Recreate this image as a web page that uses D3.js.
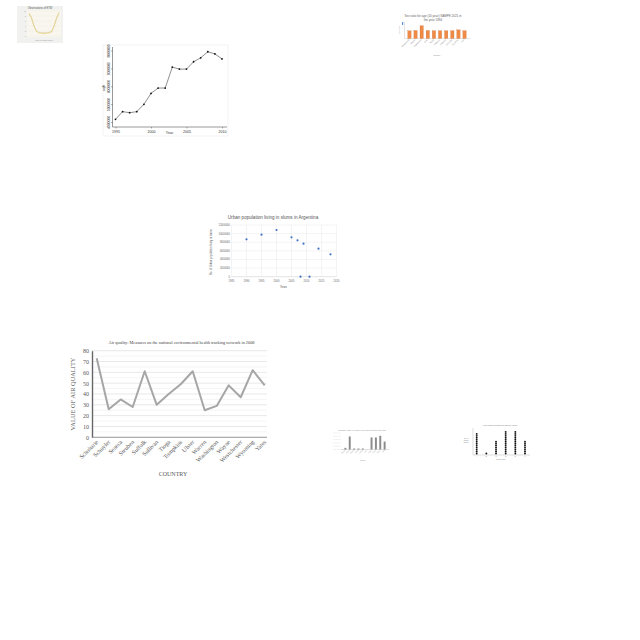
<!DOCTYPE html>
<html>
<head>
<meta charset="utf-8">
<script src="https://cdn.jsdelivr.net/npm/d3@7"></script>
<style>
  body { margin: 0; background: #fff; }
  svg { display: block; }
</style>
</head>
<body>
<svg id="svg1" width="640" height="640"></svg>
<script>
// ---- data ----
// chart A (top left, tiny line chart)
const obsX = [0, 1, 2, 3, 4, 5, 6, 7, 8, 9, 10, 11, 12];
const obsA = [9.2, 7.4, 4.1, 1.8, 1.2, 1.1, 1.0, 1.1, 1.2, 1.6, 4.0, 7.2, 9.5];
const obsB = [8.8, 7.0, 3.8, 2.0, 1.5, 1.4, 1.3, 1.4, 1.5, 1.9, 3.7, 6.9, 9.1];

// chart B (top right, orange bars)
const sexCountries = ["Bangladesh", "Bhutan", "Afghanistan", "India", "Nepal", "Maldives", "Pakistan", "Sri Lanka", "Myanmar", "Iran"];
const sexRatio = [100, 104, 165, 104, 101, 101, 101, 101, 112, 101];

// chart C (line with points)
const lineYears = [1995, 1996, 1997, 1998, 1999, 2000, 2001, 2002, 2003, 2004, 2005, 2006, 2007, 2008, 2009, 2010];
const lineValues = [4150000, 4580000, 4520000, 4580000, 4990000, 5600000, 5900000, 5900000, 7070000, 6960000, 6960000, 7370000, 7590000, 7930000, 7810000, 7530000];
const lineYTicks = [4000000, 5000000, 6000000, 7000000, 8000000];
const lineXTicks = [1995, 2000, 2005, 2010];

// chart D (Argentina slums scatter)
const slumYears = [1990, 1995, 2000, 2005, 2007, 2009, 2014, 2018, 2008, 2011];
const slumValues = [8670000, 9750000, 10840000, 9130000, 8440000, 7660000, 6500000, 5190000, 0, 0];
const slumXTicks = [1985, 1990, 1995, 2000, 2005, 2010, 2015, 2020];
const slumYTicks = [0, 2000000, 4000000, 6000000, 8000000, 10000000, 12000000];

// chart E (air quality line)
const counties = ["Schoharie", "Schuyler", "Seneca", "Steuben", "Suffolk", "Sullivan", "Tioga", "Tompkins", "Ulster", "Warren", "Washington", "Wayne", "Westchester", "Wyoming", "Yates"];
const airValues = [73, 26, 35, 28, 61, 30, 40, 49, 61, 25, 29, 48, 37, 62, 48];
const airTicks = [0, 10, 20, 30, 40, 50, 60, 70, 80];

// chart F (small gray bars)
const smallCats = ["Albania", "Algeria", "Angola", "Benin", "Bolivia", "Chad", "Egypt", "Ghana", "Kenya", "Mali"];
const smallValues = [10, 79, 6, 6, 6, 0, 73, 73, 83, 48];
const smallTicks = [0, 20, 40, 60, 80, 100];

// chart G (stacked dots)
const dotCats = ["A", "B", "C", "D", "E", "F"];
const dotCounts = [11, 1, 7, 12, 12, 7];

const svg = d3.select("#svg1");

// ---- chart A ----
function chartA() {
  const g = svg.append("g");
  g.append("rect").attr("x", 17).attr("y", 6).attr("width", 46).attr("height", 37).attr("fill", "#f1f1ef");
  g.append("text").attr("x", 40).attr("y", 9).attr("text-anchor", "middle")
    .attr("font-family", "Liberation Sans").attr("font-size", 2.6).attr("fill", "#555")
    .text("Observations of ETW");
  const x = d3.scaleLinear().domain([0, 12]).range([29, 59]);
  const y = d3.scaleLinear().domain([0, 10]).range([36, 11]);
  g.append("rect").attr("x", 27).attr("y", 10).attr("width", 34).attr("height", 27).attr("fill", "#f8f6ee");
  y.ticks(5).forEach(t => {
    g.append("line").attr("x1", 27).attr("x2", 61).attr("y1", y(t)).attr("y2", y(t)).attr("stroke", "#ece8dc").attr("stroke-width", 0.3);
    g.append("text").attr("x", 26).attr("y", y(t) + 0.6).attr("text-anchor", "end")
      .attr("font-family", "Liberation Sans").attr("font-size", 1.8).attr("fill", "#999").text(t);
  });
  const line = d3.line().x((d, i) => x(obsX[i])).y(d => y(d));
  g.append("path").datum(obsB).attr("d", line).attr("fill", "none").attr("stroke", "#d9d2b8").attr("stroke-width", 0.7);
  g.append("path").datum(obsA).attr("d", line).attr("fill", "none").attr("stroke", "#e6cf7c").attr("stroke-width", 0.8);
  g.append("text").attr("x", 44).attr("y", 41).attr("text-anchor", "middle")
    .attr("font-family", "Liberation Sans").attr("font-size", 2).attr("fill", "#999").text("Time of observation");
}

// ---- chart B ----
function chartB() {
  const g = svg.append("g");
  g.append("text").attr("x", 433).attr("y", 16.5).attr("text-anchor", "middle")
    .attr("font-family", "Liberation Sans").attr("font-size", 3).attr("fill", "#666")
    .text("Sex ratio for age (10 year) SAMPE 2021 in");
  g.append("text").attr("x", 433).attr("y", 20.5).attr("text-anchor", "middle")
    .attr("font-family", "Liberation Sans").attr("font-size", 3).attr("fill", "#666")
    .text("the year 1994");
  const x = d3.scaleBand().domain(sexCountries).range([405, 469]).padding(0.45);
  const y = d3.scaleLinear().domain([0, 200]).range([38.5, 23]);
  g.append("line").attr("x1", 404.5).attr("x2", 404.5).attr("y1", 22).attr("y2", 38.5).attr("stroke", "#bbb").attr("stroke-width", 0.4);
  g.append("line").attr("x1", 404.5).attr("x2", 470).attr("y1", 38.5).attr("y2", 38.5).attr("stroke", "#bbb").attr("stroke-width", 0.4);
  g.append("rect").attr("x", 402).attr("y", 22).attr("width", 1.2).attr("height", 3).attr("fill", "#5b8fd6");
  g.append("text").attr("transform", "translate(400,30) rotate(-90)").attr("text-anchor", "middle")
    .attr("font-family", "Liberation Sans").attr("font-size", 2).attr("fill", "#888").text("Sex ratio");
  g.selectAll("rect.bar").data(sexRatio).enter().append("rect").attr("class", "bar")
    .attr("x", (d, i) => x(sexCountries[i])).attr("y", d => y(d))
    .attr("width", x.bandwidth()).attr("height", d => y(0) - y(d))
    .attr("fill", "#ee8a45").attr("stroke", "#c8651f").attr("stroke-width", 0.2);
  sexCountries.forEach(c => {
    g.append("text").attr("transform", "translate(" + (x(c) + x.bandwidth() / 2) + ",40) rotate(-45)")
      .attr("text-anchor", "end").attr("font-family", "Liberation Sans").attr("font-size", 1.9).attr("fill", "#888").text(c);
  });
  g.append("text").attr("x", 437).attr("y", 55.5).attr("text-anchor", "middle")
    .attr("font-family", "Liberation Sans").attr("font-size", 2).attr("fill", "#888").text("Country");
}

// ---- chart C ----
function chartC() {
  const g = svg.append("g");
  const x = d3.scaleLinear().domain([1995, 2010]).range([115.5, 222]);
  const y = d3.scaleLinear().domain([4000000, 8000000]).range([122, 50.5]);
  g.append("rect").attr("x", 103).attr("y", 45).attr("width", 125).attr("height", 91).attr("fill", "none").attr("stroke", "#e6e6e6").attr("stroke-width", 0.5);
  g.append("g").attr("transform", "translate(0,127)")
    .call(d3.axisBottom(x).tickValues(lineXTicks).tickSize(1.5).tickFormat(d3.format("d")))
    .call(a => a.select(".domain").attr("stroke", "#333").attr("stroke-width", 0.5).attr("d", "M112.5,0H227"))
    .call(a => a.selectAll("line").attr("stroke", "#333").attr("stroke-width", 0.4))
    .call(a => a.selectAll("text").attr("font-size", 3.6).attr("font-family", "Liberation Sans").attr("fill", "#333").attr("dy", "0.5em"));
  g.append("g").attr("transform", "translate(112.5,0)")
    .call(d3.axisLeft(y).tickValues(lineYTicks).tickSize(1.5).tickFormat(d3.format("d")))
    .call(a => a.select(".domain").attr("stroke", "#333").attr("stroke-width", 0.5).attr("d", "M0,47V127"))
    .call(a => a.selectAll("line").attr("stroke", "#333").attr("stroke-width", 0.4))
    .call(a => a.selectAll("text").attr("font-size", 3.4).attr("font-family", "Liberation Sans").attr("fill", "#333")
      .attr("x", 0).attr("y", 0).attr("dy", 0)
      .attr("text-anchor", "middle").attr("transform", "translate(-2.8,0) rotate(-90)"));
  const line = d3.line().x((d, i) => x(lineYears[i])).y(d => y(d));
  g.append("path").datum(lineValues).attr("d", line).attr("fill", "none").attr("stroke", "#444").attr("stroke-width", 0.6);
  g.selectAll("circle").data(lineValues).enter().append("circle")
    .attr("cx", (d, i) => x(lineYears[i])).attr("cy", d => y(d)).attr("r", 0.9).attr("fill", "#111");
  g.append("text").attr("transform", "translate(105,88) rotate(-90)").attr("text-anchor", "middle")
    .attr("font-family", "Liberation Sans").attr("font-size", 3.6).attr("fill", "#333").text("sqft");
  g.append("text").attr("x", 169.5).attr("y", 134).attr("text-anchor", "middle")
    .attr("font-family", "Liberation Sans").attr("font-size", 3.6).attr("fill", "#333").text("Year");
}

// ---- chart D ----
function chartD() {
  const g = svg.append("g");
  const x = d3.scaleLinear().domain([1985, 2020]).range([231.5, 336.5]);
  const y = d3.scaleLinear().domain([0, 12000000]).range([276.7, 225]);
  g.append("text").attr("x", 273).attr("y", 218.5).attr("text-anchor", "middle")
    .attr("font-family", "Liberation Sans").attr("font-size", 4.6).attr("fill", "#555")
    .text("Urban population living in slums in Argentina");
  slumYTicks.forEach(t => {
    g.append("line").attr("x1", 231.5).attr("x2", 336.5).attr("y1", y(t)).attr("y2", y(t)).attr("stroke", t === 0 ? "#bbb" : "#e2e2e2").attr("stroke-width", 0.4);
    g.append("text").attr("x", 230).attr("y", y(t) + 0.9).attr("text-anchor", "end")
      .attr("font-family", "Liberation Sans").attr("font-size", 2.6).attr("fill", "#666").text(t);
  });
  slumXTicks.forEach(t => {
    g.append("line").attr("x1", x(t)).attr("x2", x(t)).attr("y1", 225).attr("y2", 276.7).attr("stroke", "#e2e2e2").attr("stroke-width", 0.4);
    g.append("text").attr("x", x(t)).attr("y", 282).attr("text-anchor", "middle")
      .attr("font-family", "Liberation Sans").attr("font-size", 2.6).attr("fill", "#666").text(t);
  });
  g.selectAll("circle").data(slumValues).enter().append("circle")
    .attr("cx", (d, i) => x(slumYears[i])).attr("cy", d => y(d)).attr("r", 1.1).attr("fill", "#4472c4");
  g.append("text").attr("transform", "translate(212,252) rotate(-90)").attr("text-anchor", "middle")
    .attr("font-family", "Liberation Sans").attr("font-size", 2.7).attr("fill", "#555").text("No. of Urban population living in slums");
  g.append("text").attr("x", 283.5).attr("y", 288).attr("text-anchor", "middle")
    .attr("font-family", "Liberation Sans").attr("font-size", 2.8).attr("fill", "#555").text("Years");
}

// ---- chart E ----
function chartE() {
  const g = svg.append("g");
  const x = d3.scalePoint().domain(counties).range([96.7, 264.7]);
  const y = d3.scaleLinear().domain([0, 80]).range([437.3, 350.7]);
  g.append("text").attr("x", 181.5).attr("y", 343.5).attr("text-anchor", "middle")
    .attr("font-family", "Liberation Serif").attr("font-size", 4.3).attr("fill", "#444")
    .text("Air quality: Measures on the national environmental health tracking network in 2008");
  d3.range(0, 81, 5).forEach(t => {
    g.append("line").attr("x1", 92).attr("x2", 267).attr("y1", y(t)).attr("y2", y(t))
      .attr("stroke", t % 10 === 0 ? "#d9d9d9" : "#eeeeee").attr("stroke-width", 0.6);
  });
  g.append("g").attr("transform", "translate(92,0)")
    .call(d3.axisLeft(y).tickValues(airTicks).tickSize(0).tickPadding(3))
    .call(a => a.select(".domain").attr("stroke", "#666").attr("stroke-width", 1.4))
    .call(a => a.selectAll("text").attr("font-family", "Liberation Serif").attr("font-size", 6).attr("fill", "#595959"));
  g.append("line").attr("x1", 92).attr("x2", 267).attr("y1", y(0)).attr("y2", y(0)).attr("stroke", "#888").attr("stroke-width", 0.8);
  counties.forEach(c => {
    g.append("text").attr("transform", "translate(" + (x(c) + 2) + "," + (y(0) + 5) + ") rotate(-45)")
      .attr("text-anchor", "end").attr("font-family", "Liberation Serif").attr("font-size", 6).attr("fill", "#595959").text(c);
  });
  const line = d3.line().x((d, i) => x(counties[i])).y(d => y(d));
  g.append("path").datum(airValues).attr("d", line).attr("fill", "none").attr("stroke", "#a6a6a6").attr("stroke-width", 2).attr("stroke-linejoin", "round");
  g.append("text").attr("transform", "translate(75,394) rotate(-90)").attr("text-anchor", "middle")
    .attr("font-family", "Liberation Serif").attr("font-size", 6.4).attr("fill", "#595959").text("VALUE OF AIR QUALITY");
  g.append("text").attr("x", 173).attr("y", 476).attr("text-anchor", "middle")
    .attr("font-family", "Liberation Serif").attr("font-size", 6).attr("fill", "#595959").text("COUNTRY");
}

// ---- chart F ----
function chartF() {
  const g = svg.append("g");
  g.append("text").attr("x", 362).attr("y", 431).attr("text-anchor", "middle")
    .attr("font-family", "Liberation Sans").attr("font-size", 1.6).attr("fill", "#888")
    .text("Population, female (% of total) in 1974 and in countries of the world");
  const x = d3.scaleBand().domain(smallCats).range([342, 388]).padding(0.55);
  const y = d3.scaleLinear().domain([0, 100]).range([449.5, 433]);
  smallTicks.forEach(t => {
    g.append("line").attr("x1", 333).attr("x2", 341).attr("y1", y(t)).attr("y2", y(t)).attr("stroke", "#ddd").attr("stroke-width", 0.4);
  });
  g.append("line").attr("x1", 341).attr("x2", 389).attr("y1", y(0)).attr("y2", y(0)).attr("stroke", "#999").attr("stroke-width", 0.3);
  g.selectAll("rect").data(smallValues).enter().append("rect")
    .attr("x", (d, i) => x(smallCats[i])).attr("y", d => y(d))
    .attr("width", x.bandwidth()).attr("height", d => y(0) - y(d)).attr("fill", "#8c8c8c");
  smallCats.forEach(c => {
    g.append("text").attr("transform", "translate(" + (x(c) + 1) + ",450.5) rotate(-45)")
      .attr("text-anchor", "end").attr("font-family", "Liberation Sans").attr("font-size", 1.5).attr("fill", "#999").text(c);
  });
  g.append("text").attr("x", 363).attr("y", 460.5).attr("text-anchor", "middle")
    .attr("font-family", "Liberation Sans").attr("font-size", 1.6).attr("fill", "#999").text("Country");
}

// ---- chart G ----
function chartG() {
  const g = svg.append("g");
  g.append("text").attr("x", 500).attr("y", 425.5).attr("text-anchor", "middle")
    .attr("font-family", "Liberation Sans").attr("font-size", 1.6).attr("fill", "#777")
    .text("Annual number of deaths from cholera by country");
  const x = d3.scalePoint().domain(dotCats).range([476.7, 525]);
  const y = d3.scaleLinear().domain([0, 14]).range([454.5, 427]);
  g.append("line").attr("x1", 473).attr("x2", 473).attr("y1", 428).attr("y2", 455).attr("stroke", "#888").attr("stroke-width", 0.3);
  g.append("line").attr("x1", 473).attr("x2", 530).attr("y1", 455).attr("y2", 455).attr("stroke", "#888").attr("stroke-width", 0.3);
  ["No. of", "deaths", "(x1000)"].forEach((s, i) => {
    g.append("text").attr("x", 466).attr("y", 439 + i * 1.8).attr("text-anchor", "middle")
      .attr("font-family", "Liberation Sans").attr("font-size", 1.5).attr("fill", "#777").text(s);
  });
  dotCats.forEach((c, i) => {
    const n = dotCounts[i];
    g.selectAll(null).data(d3.range(n)).enter().append("circle")
      .attr("cx", x(c)).attr("cy", k => y(k + 0.5)).attr("r", 0.95).attr("fill", "#111");
    g.append("text").attr("x", x(c)).attr("y", 457).attr("text-anchor", "middle")
      .attr("font-family", "Liberation Sans").attr("font-size", 1.5).attr("fill", "#777").text(c);
  });
  g.append("text").attr("x", 501).attr("y", 459.5).attr("text-anchor", "middle")
    .attr("font-family", "Liberation Sans").attr("font-size", 1.5).attr("fill", "#777").text("Country name");
}

chartA();
chartB();
chartC();
chartD();
chartE();
chartF();
chartG();
</script>
</body>
</html>
